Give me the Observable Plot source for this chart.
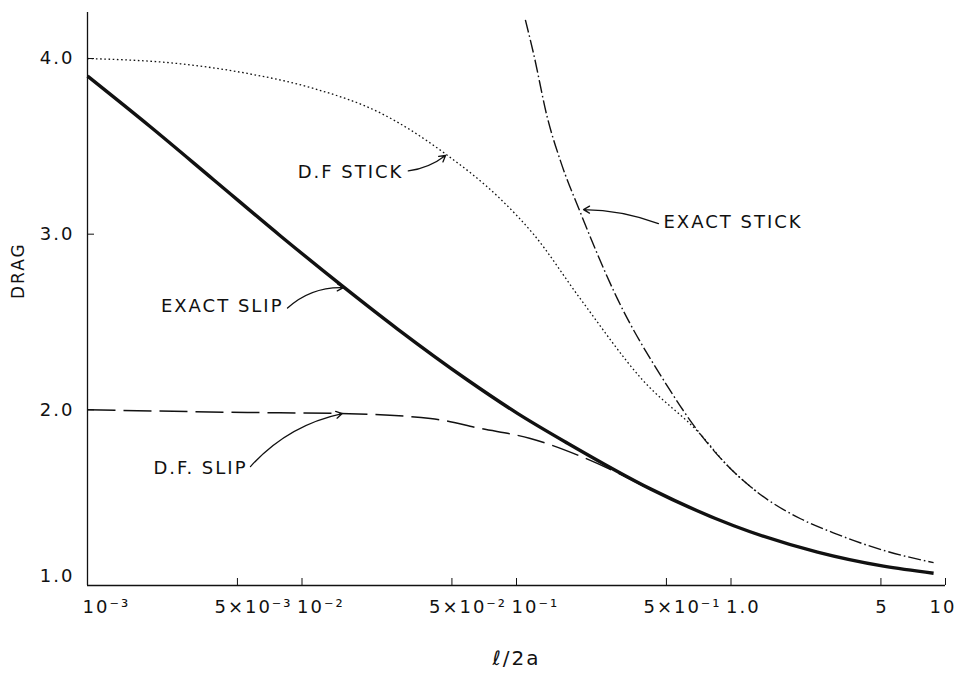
<!DOCTYPE html>
<html><head><meta charset="utf-8">
<script src="https://cdn.jsdelivr.net/npm/d3@7"></script>
<script src="https://cdn.jsdelivr.net/npm/@observablehq/plot@0.6"></script>
<style>
html,body{margin:0;padding:0;background:#fff;}
#chart svg text{letter-spacing:2px;}
</style></head><body><div id="chart"></div>
<script>
// ---- data ----
const exactSlipX = [0.001, 0.00197, 0.00387, 0.00794, 0.0156, 0.0279, 0.0591, 0.101, 0.173, 0.421, 1.03, 2.53, 5.14, 8.8];
const exactSlipY = [3.90, 3.61, 3.31, 2.99, 2.70, 2.46, 2.17, 1.98, 1.81, 1.55, 1.34, 1.19, 1.11, 1.07];

const dfStickX = [0.001, 0.00271, 0.00557, 0.0113, 0.0232, 0.0457, 0.0842, 0.12, 0.199, 0.387, 0.721, 0.962, 1.33];
const dfStickY = [4.0, 3.97, 3.915, 3.83, 3.69, 3.465, 3.20, 3.00, 2.63, 2.17, 1.86, 1.683, 1.53];

const exactStickX = [0.110, 0.12, 0.1395, 0.160, 0.199, 0.296, 0.4845, 0.721, 0.962, 1.33, 2.11, 3.0, 5.14, 8.8];
const exactStickY = [4.22, 4.03, 3.66, 3.42, 3.12, 2.63, 2.17, 1.86, 1.683, 1.53, 1.38, 1.30, 1.20, 1.13];

const dfSlipX = [0.001, 0.00557, 0.0151, 0.0397, 0.068, 0.116, 0.205, 0.421];
const dfSlipY = [2.0, 1.985, 1.979, 1.951, 1.894, 1.837, 1.729, 1.546];

// tick values and labels
const yTickValues = [2, 3, 4];
const yTickLabels = ["2.0", "3.0", "4.0"];
const yTickBottom = [1];
const yTickBottomLabels = ["1.0"];
const xTickValues = [0.001, 0.005, 0.01, 0.05, 0.1, 0.5, 1, 5, 10];
const xTicksPow = [0.001, 0.01, 0.1, 1];
const xTicksPowLabels = ["10\u207B\u00B3", "10\u207B\u00B2", "10\u207B\u00B9", "1.0"];
const xTicksFive = [0.005, 0.05, 0.5];
const xTicksFiveLabels = ["5\u00D710\u207B\u00B3", "5\u00D710\u207B\u00B2", "5\u00D710\u207B\u00B9"];
const xTicksFiveOnly = [5];
const xTicksFiveOnlyLabels = ["5"];
const xTicksTen = [10];
const xTicksTenLabels = ["10"];

// curve annotations (label anchor, arrow tail, arrow tip in data units)
const annLabels = ["D.F STICK", "EXACT STICK", "EXACT SLIP", "D.F. SLIP"];
const annLabelX = [0.0297, 0.4845, 0.0082, 0.00557];
const annLabelY = [3.351, 3.066, 2.588, 1.666];
const annAnchor = ["end", "start", "end", "end"];
const arrowX1 = [0.0313, 0.459, 0.00856, 0.00575];
const arrowY1 = [3.36, 3.06, 2.58, 1.677];
const arrowX2 = [0.0467, 0.2053, 0.0156, 0.0154];
const arrowY2 = [3.448, 3.14, 2.696, 1.979];
const arrowBend = [-15, -10, 22, 18];

// ---- build ----
const series = (xs, ys) => xs.map((x, i) => ({x, y: ys[i]}));
const exactSlip = series(exactSlipX, exactSlipY);
const dfStick = series(dfStickX, dfStickY);
const exactStick = series(exactStickX, exactStickY);
const dfSlip = series(dfSlipX, dfSlipY);
const ann = annLabels.map((t, i) => ({t, x: annLabelX[i], y: annLabelY[i], anchor: annAnchor[i]}));
const arrows = arrowX1.map((x1, i) => ({x1, y1: arrowY1[i], x2: arrowX2[i], y2: arrowY2[i], bend: arrowBend[i]}));
const tickTable = (vals, labs) => vals.map((v, i) => ({v, label: labs[i]}));

const FONT = "DejaVu Sans";
const curveOpts = {x: "x", y: "y", curve: "monotone-x", stroke: "#111", strokeLinecap: "butt"};
const xLabelOpts = {x: "v", text: "label", frameAnchor: "bottom", lineAnchor: "top", dy: 15, fontSize: 18, fill: "#111"};
const yLabelOpts = {y: "v", text: "label", frameAnchor: "left", textAnchor: "end", dx: -13, fontSize: 18, fill: "#111"};

const chart = Plot.plot({
  width: 957,
  height: 675,
  marginLeft: 87,
  marginRight: 12,
  marginTop: 12,
  marginBottom: 90,
  x: {type: "log", domain: [1e-3, 10]},
  y: {domain: [1, 4.262]},
  style: {fontFamily: FONT, fontSize: "18px", background: "#fff", color: "#111"},
  marks: [
    Plot.ruleX([1e-3], {stroke: "#111", strokeWidth: 1.3}),
    Plot.ruleY([1], {stroke: "#111", strokeWidth: 1.3}),
    Plot.line(dfSlip, {...curveOpts, strokeWidth: 1.5, strokeDasharray: "28,8"}),
    Plot.line(dfStick, {...curveOpts, strokeWidth: 1.3, strokeDasharray: "1.6,2.6"}),
    Plot.line(exactStick, {...curveOpts, strokeWidth: 1.4, strokeDasharray: "13,3,1.6,3"}),
    Plot.line(exactSlip, {...curveOpts, strokeWidth: 3.4}),
    Plot.axisY(yTickValues, {anchor: "left", tickSize: -7, tickFormat: () => "", label: null}),
    Plot.axisX(xTickValues, {anchor: "bottom", tickSize: -7, tickFormat: () => "", label: null}),
    Plot.text(tickTable(yTickValues, yTickLabels), yLabelOpts),
    Plot.text(tickTable(yTickBottom, yTickBottomLabels), {...yLabelOpts, dy: -9}),
    Plot.text(tickTable(xTicksPow, xTicksPowLabels), {...xLabelOpts, textAnchor: "start", dx: -5}),
    Plot.text(tickTable(xTicksFive, xTicksFiveLabels), {...xLabelOpts, textAnchor: "start", dx: -23}),
    Plot.text(tickTable(xTicksFiveOnly, xTicksFiveOnlyLabels), {...xLabelOpts, textAnchor: "middle", dx: 1}),
    Plot.text(tickTable(xTicksTen, xTicksTenLabels), {...xLabelOpts, textAnchor: "end", dx: 11}),
    Plot.text(["DRAG"], {frameAnchor: "left", dx: -69, rotate: -90, fontSize: 17, fill: "#111"}),
    Plot.text(["\u2113/2a"], {frameAnchor: "bottom", dy: 79, fontSize: 20, fill: "#111"}),
    Plot.text(ann.filter(d => d.anchor === "end"), {x: "x", y: "y", text: "t", textAnchor: "end", fontSize: 18, fill: "#111"}),
    Plot.text(ann.filter(d => d.anchor === "start"), {x: "x", y: "y", text: "t", textAnchor: "start", fontSize: 18, fill: "#111"}),
    ...arrows.map(a => Plot.arrow([a], {x1: "x1", y1: "y1", x2: "x2", y2: "y2", bend: a.bend, headLength: 8, stroke: "#111", strokeWidth: 1.3}))
  ]
});
document.getElementById("chart").appendChild(chart);
</script></body></html>
